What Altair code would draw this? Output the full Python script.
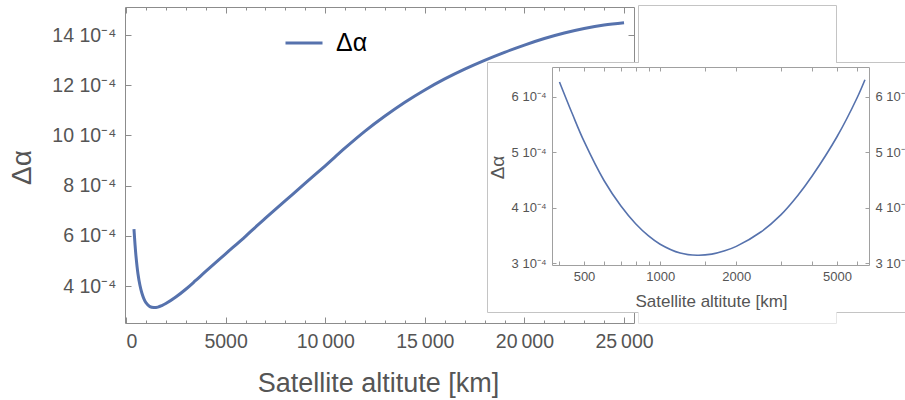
import altair as alt
import pandas as pd

# ---------------- data ----------------
altitude_km = [400, 450, 500, 600, 700, 800, 900, 1000, 1200, 1400, 1600, 1800,
               2000, 2500, 3000, 3500, 4000, 5000, 6000, 6450, 7000, 8000, 9000,
               10000, 11000, 12000, 13000, 14000, 15000, 16000, 17000, 18000,
               19000, 20000, 21000, 22000, 23000, 24000, 25000]
delta_alpha_1e4 = [6.27, 5.69, 5.20, 4.49, 4.03, 3.71, 3.49, 3.34, 3.18, 3.14, 3.16, 3.22,
                   3.30, 3.56, 3.87, 4.22, 4.58, 5.28, 5.98, 6.31, 6.70, 7.40, 8.10,
                   8.79, 9.50, 10.17, 10.77, 11.32, 11.81, 12.25, 12.64, 12.99,
                   13.31, 13.60, 13.86, 14.08, 14.26, 14.40, 14.49]
series_name = "Δα"

main_x_ticks = [0, 5000, 10000, 15000, 20000, 25000]
main_x_minor = list(range(0, 25001, 1000))
main_y_ticks = [k * 1e-4 for k in (4, 6, 8, 10, 12, 14)]
inset_x_ticks = [400, 500, 600, 700, 800, 900, 1000, 1500, 2000, 3000, 4000, 5000, 6000]
inset_x_labels = [500, 1000, 2000, 5000]
inset_y_ticks = [k * 1e-4 for k in (3, 4, 5, 6)]
inset_max_km = 6450

df = pd.DataFrame({
    "alt_km": altitude_km,
    "dalpha": [v * 1e-4 for v in delta_alpha_1e4],
    "series": [series_name] * len(altitude_km),
})

# ---------------- layout / style ----------------
W, H = 509, 316
X_DOM = [-50, 25500]
Y_DOM = [2.526e-4, 15.116e-4]
IN_X_DOM = [373.7, 6692]
IN_X_RANGE = [427, 744]
IN_Y_DOM = [2.964e-4, 6.54e-4]
IN_Y_RANGE = [258, 60]

FONT = "Liberation Sans"
LINE = "#5672ad"
FRAME = "#8c8c8c"
IN_FRAME = "#a0a0a0"
LABEL = "#555555"
BOX = "#c4c4c4"
CURVE = "catmull-rom"

y_label_expr = "round(datum.value * 10000) + ' 10\u207b\u2074'"
x_label_expr = ("datum.value >= 10000 ? replace(format(datum.value, ','), ',', '\u2009') "
                ": format(datum.value, 'd')")
inset_x_label_expr = "indexof([%s], datum.value) >= 0 ? format(datum.value, 'd') : ''" % (
    ", ".join(str(v) for v in inset_x_labels))
major_tick = {"condition": {"test": "datum.value % 5000 === 0", "value": 6}, "value": 3}

main_xs = alt.Scale(domain=X_DOM, nice=False, zero=False)
main_ys = alt.Scale(domain=Y_DOM, nice=False, zero=False)
in_xs = alt.Scale(type="log", domain=IN_X_DOM, range=IN_X_RANGE, nice=False)
in_ys = alt.Scale(domain=IN_Y_DOM, range=IN_Y_RANGE, nice=False, zero=False)

base = alt.Chart(df)
inset_base = alt.Chart(df).transform_filter(alt.datum.alt_km <= inset_max_km)

# main curve with labelled axes and legend
main_line = base.mark_line(strokeWidth=3, interpolate=CURVE).encode(
    x=alt.X("alt_km:Q", scale=main_xs, axis=alt.Axis(
        orient="bottom", values=main_x_ticks, ticks=False, domain=True,
        domainColor=FRAME, grid=False, labelExpr=x_label_expr, labelFontSize=19.5,
        labelColor=LABEL, labelPadding=9, labelFont=FONT,
        title="Satellite altitute [km]", titleFont=FONT, titleFontSize=27,
        titleFontWeight="normal", titleColor=LABEL, titleX=253, titleY=60,
        titleAlign="center", titleBaseline="middle")),
    y=alt.Y("dalpha:Q", scale=main_ys, axis=alt.Axis(
        orient="left", values=main_y_ticks, ticks=False, domain=True,
        domainColor=FRAME, grid=False, labelExpr=y_label_expr, labelFontSize=19.5,
        labelColor=LABEL, labelPadding=9, labelFont=FONT,
        title="Δα", titleFont=FONT, titleFontSize=28, titleFontWeight="normal",
        titleColor=LABEL, titleX=-103, titleY=160, titleAngle=270,
        titleAlign="center", titleBaseline="middle")),
    color=alt.Color("series:N", scale=alt.Scale(range=[LINE]), legend=alt.Legend(
        orient="none", legendX=159, legendY=16, title=None, symbolType="stroke",
        symbolStrokeWidth=3, symbolSize=1369, labelFontSize=25, labelColor="black",
        labelFont=FONT, labelOffset=12, padding=0)),
)

# inward ticks on bottom and left frame
main_ticks_in = base.mark_line(strokeOpacity=0).encode(
    x=alt.X("alt_km:Q", scale=main_xs, axis=alt.Axis(
        orient="top", offset=-H, values=main_x_minor, labels=False, domain=False,
        grid=False, tickSize=major_tick, tickColor=FRAME, title=None)),
    y=alt.Y("dalpha:Q", scale=main_ys, axis=alt.Axis(
        orient="right", offset=-W, values=main_y_ticks, labels=False, domain=False,
        grid=False, tickSize=6, tickColor=FRAME, title=None)),
)

# top and right frame with inward ticks
main_frame = base.mark_line(strokeOpacity=0).encode(
    x=alt.X("alt_km:Q", scale=main_xs, axis=alt.Axis(
        orient="bottom", offset=-H, values=main_x_minor, labels=False, domain=True,
        domainColor=FRAME, grid=False, tickSize=major_tick, tickColor=FRAME, title=None)),
    y=alt.Y("dalpha:Q", scale=main_ys, axis=alt.Axis(
        orient="left", offset=-W, values=main_y_ticks, labels=False, domain=True,
        domainColor=FRAME, grid=False, tickSize=6, tickColor=FRAME, title=None)),
)

one = alt.Data(values=[{}])


def panel(x, x2, y, y2, stroke=None, width=1):
    kw = dict(fill="white")
    if stroke:
        kw.update(stroke=stroke, strokeWidth=width)
    return alt.Chart(one).mark_rect(**kw).encode(
        x=alt.value(x), x2=alt.value(x2), y=alt.value(y), y2=alt.value(y2))


box_main = panel(362.5, 800, 55.5, 305.5, BOX)
box_top = panel(513.5, 711.5, -1.5, 55.5, BOX)
box_bottom = panel(513.5, 711.5, 305.5, 316.5, "#e6e6e6")
cover_top = panel(514, 711, 50, 59)
cover_bottom = panel(514, 711, 301, 310)

# inset curve with labelled left/bottom axes
in_line = inset_base.mark_line(strokeWidth=1.6, color=LINE, interpolate=CURVE).encode(
    x=alt.X("alt_km:Q", scale=in_xs, axis=alt.Axis(
        orient="bottom", offset=258 - H, values=inset_x_ticks, ticks=False, domain=True,
        domainColor=IN_FRAME, grid=False, labelExpr=inset_x_label_expr, labelFontSize=13,
        labelColor=LABEL, labelPadding=5, labelFont=FONT, zindex=1,
        title="Satellite altitute [km]", titleFont=FONT, titleFontSize=17,
        titleFontWeight="normal", titleColor=LABEL, titleX=586, titleY=36,
        titleAlign="center", titleBaseline="middle")),
    y=alt.Y("dalpha:Q", scale=in_ys, axis=alt.Axis(
        orient="left", offset=-427, values=inset_y_ticks, ticks=False, domain=True,
        domainColor=IN_FRAME, grid=False, labelExpr=y_label_expr, labelFontSize=13,
        labelColor=LABEL, labelPadding=6, labelFont=FONT, zindex=1,
        title="Δα", titleFont=FONT, titleFontSize=19, titleFontWeight="normal",
        titleColor=LABEL, titleX=-55, titleY=160, titleAngle=270,
        titleAlign="center", titleBaseline="middle")),
)

in_ticks_in = inset_base.mark_line(strokeOpacity=0).encode(
    x=alt.X("alt_km:Q", scale=in_xs, axis=alt.Axis(
        orient="top", offset=-258, values=inset_x_ticks, labels=False, domain=False,
        grid=False, tickSize=4, tickColor=IN_FRAME, zindex=1, title=None)),
    y=alt.Y("dalpha:Q", scale=in_ys, axis=alt.Axis(
        orient="right", offset=427 - W, values=inset_y_ticks, labels=False, domain=False,
        grid=False, tickSize=4, tickColor=IN_FRAME, zindex=1, title=None)),
)

in_frame = inset_base.mark_line(strokeOpacity=0).encode(
    x=alt.X("alt_km:Q", scale=in_xs, axis=alt.Axis(
        orient="bottom", offset=60 - H, values=inset_x_ticks, labels=False, domain=True,
        domainColor=IN_FRAME, grid=False, tickSize=4, tickColor=IN_FRAME, zindex=1,
        title=None)),
    y=alt.Y("dalpha:Q", scale=in_ys, axis=alt.Axis(
        orient="left", offset=-744, values=inset_y_ticks, labels=False, domain=True,
        domainColor=IN_FRAME, grid=False, tickSize=4, tickColor=IN_FRAME, zindex=1,
        title=None)),
)

in_right_labels = inset_base.mark_line(strokeOpacity=0).encode(
    x=alt.X("alt_km:Q", scale=in_xs, axis=None),
    y=alt.Y("dalpha:Q", scale=in_ys, axis=alt.Axis(
        orient="right", offset=744 - W, values=inset_y_ticks, ticks=False, domain=False,
        grid=False, labelExpr=y_label_expr, labelFontSize=13, labelColor=LABEL,
        labelPadding=6, labelFont=FONT, zindex=1, title=None)),
)

chart = alt.layer(
    main_line, main_ticks_in, main_frame,
    box_main, box_top, box_bottom, cover_top, cover_bottom,
    in_line, in_ticks_in, in_frame, in_right_labels,
).resolve_scale(x="independent", y="independent").resolve_axis(
    x="independent", y="independent"
).properties(
    width=W, height=H,
    autosize=alt.AutoSizeParams(type="none"),
    padding={"left": 125, "top": 7, "right": 271, "bottom": 77},
    background="white",
).configure_view(stroke=None)

chart.save("out.html", embed_options={"renderer": "svg", "actions": False})
